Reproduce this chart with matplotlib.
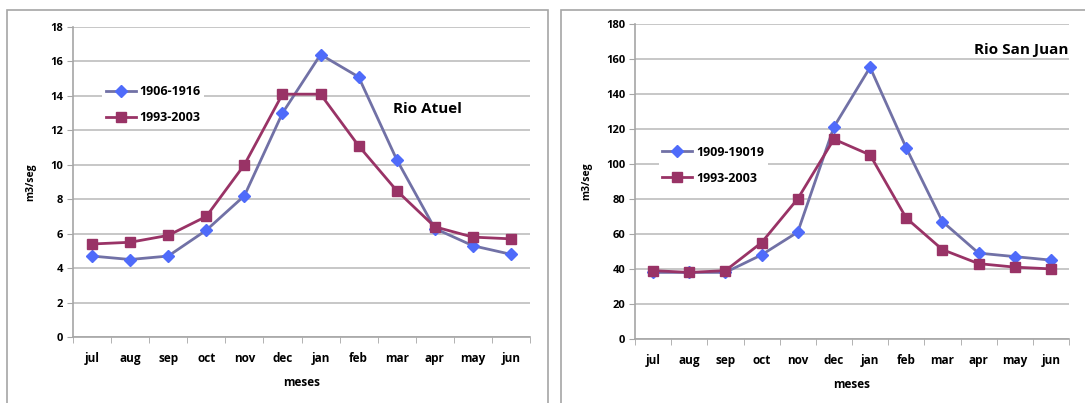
import matplotlib
matplotlib.use("Agg")
import matplotlib.pyplot as plt
from matplotlib.patches import Rectangle
from matplotlib.ticker import FixedLocator

plt.rcParams['font.family'] = ['Open Sans', 'DejaVu Sans']
plt.rcParams['font.weight'] = 'bold'

months = ["jul", "aug", "sep", "oct", "nov", "dec", "jan", "feb", "mar", "apr", "may", "jun"]

atuel_old = [4.7, 4.5, 4.7, 6.2, 8.2, 13.0, 16.4, 15.1, 10.3, 6.3, 5.3, 4.8]
atuel_new = [5.4, 5.5, 5.9, 7.0, 10.0, 14.1, 14.1, 11.1, 8.5, 6.4, 5.8, 5.7]
atuel_labels = ["1906-1916", "1993-2003"]

sanjuan_old = [38, 38, 38, 48, 61, 121, 155, 109, 67, 49, 47, 45]
sanjuan_new = [39, 38, 39, 55, 80, 114, 105, 69, 51, 43, 41, 40]
sanjuan_labels = ["1909-19019", "1993-2003"]

LINE_OLD = "#7171A6"
MARK_OLD = "#4F6BFA"
COL_NEW = "#993366"
GRID = "#BDBDBD"

W, H = 1085, 403
fig = plt.figure(figsize=(W / 100, H / 100), dpi=100)

# panel frames
for x0, x1 in [(7, 548), (561, 1090)]:
    fig.add_artist(Rectangle((x0 / W, -0.05), (x1 - x0) / W, 1.05 - 10 / H,
                             transform=fig.transFigure, fill=False,
                             edgecolor="#A6A6A6", linewidth=1.2))


def panel(rect, old, new, labels, ymax, ystep, title, title_xy, title_ha, leg_xy):
    ax = fig.add_axes(rect)
    x = range(len(months))
    ax.plot(x, old, color=LINE_OLD, lw=2, marker="D", markersize=6.5,
            markerfacecolor=MARK_OLD, markeredgecolor=MARK_OLD, label=labels[0], zorder=3)
    ax.plot(x, new, color=COL_NEW, lw=2, marker="s", markersize=7,
            markerfacecolor=COL_NEW, markeredgecolor=COL_NEW, label=labels[1], zorder=3)
    ax.set_xlim(-0.5, len(months) - 0.5)
    ax.set_ylim(0, ymax)
    ax.set_yticks(range(0, ymax + 1, ystep))
    ax.set_xticks(list(x))
    ax.set_xticklabels(months)
    ax.xaxis.set_minor_locator(FixedLocator([i - 0.5 for i in range(len(months) + 1)]))
    ax.tick_params(axis="x", which="major", length=0, pad=11, labelsize=8.5)
    ax.tick_params(axis="x", which="minor", length=4, color="#A6A6A6", direction="out")
    ax.tick_params(axis="y", length=4, color="#A6A6A6", pad=3, labelsize=8)
    ax.grid(axis="y", color=GRID, lw=1.2)
    ax.set_axisbelow(True)
    for s in ["top", "right"]:
        ax.spines[s].set_visible(False)
    ax.spines["left"].set_color("#A6A6A6")
    ax.spines["bottom"].set_color("#A6A6A6")
    ax.spines["left"].set_linewidth(1.2)
    ax.spines["bottom"].set_linewidth(1.2)
    ax.set_xlabel("meses", fontsize=8.5, fontweight="bold", labelpad=8)
    ax.set_ylabel("m3/seg", fontsize=7.5, fontweight="bold", labelpad=10)
    ax.text(title_xy[0], title_xy[1], title, transform=ax.transAxes, ha=title_ha,
            va="center", fontsize=11, fontweight="bold")
    ax.legend(loc="upper left", bbox_to_anchor=leg_xy, frameon=True,
              fancybox=False, edgecolor="none", facecolor="white", framealpha=1,
              fontsize=9, handlelength=2.4, labelspacing=1.05, borderpad=0.3,
              handletextpad=0.3)
    return ax


panel([73 / W, 1 - 337 / H, 457 / W, 310 / H], atuel_old, atuel_new, atuel_labels,
      18, 2, "Rio Atuel", (0.775, 0.735), "center", (0.05, 0.845))
panel([635 / W, 1 - 339 / H, 434 / W, 315.5 / H], sanjuan_old, sanjuan_new, sanjuan_labels,
      180, 20, "Rio San Juan", (1.0, 0.915), "right", (0.04, 0.645))

fig.savefig("out.png", dpi=100)
